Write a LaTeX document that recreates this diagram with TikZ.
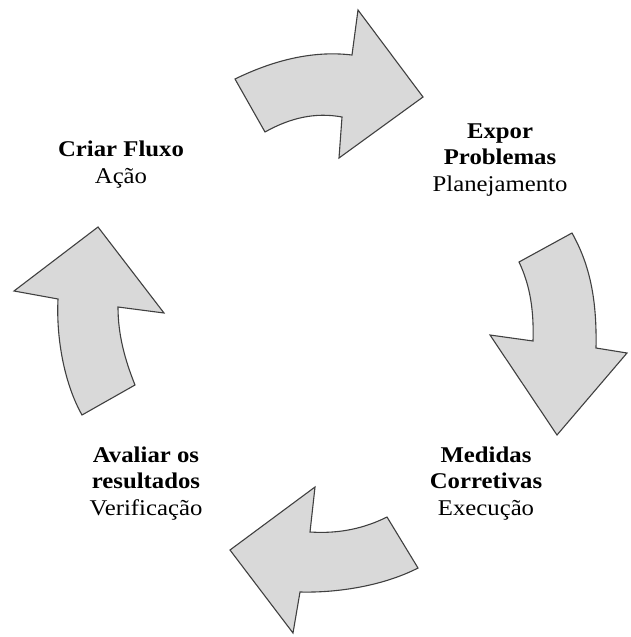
\documentclass[tikz,border=0pt]{standalone}
\usepackage{fontspec}
\setmainfont{Liberation Serif}
\begin{document}
\begin{tikzpicture}[x=1pt,y=-1pt,
  cyclearrow/.style={fill=black!15, draw=black!75, line width=1.1pt, line join=miter},
  stagelabel/.style={align=center, xscale=1.1, inner sep=0pt,
    font=\fontsize{22.5}{26.5}\selectfont, anchor=base}]
\useasboundingbox (0,0) rectangle (630,637);

% top arrow: pointing right
\draw[cyclearrow] (235,79) .. controls (270,62) and (310,50) .. (352,55)
  -- (358,10) -- (423,97) -- (339,158) -- (342,117)
  .. controls (315,112) and (290,118) .. (265,132) -- cycle;

% right arrow: pointing down
\draw[cyclearrow] (519,262) -- (572,233)
  .. controls (590,265) and (597,300) .. (596,348)
  -- (627,353) -- (557,435) -- (490,335) -- (533,341)
  .. controls (534,310) and (530,285) .. (519,262) -- cycle;

% bottom arrow: pointing left
\draw[cyclearrow] (387,517) -- (418,568)
  .. controls (385,585) and (340,593) .. (300,592)
  -- (293,633) -- (230,550) -- (315,487) -- (310,532)
  .. controls (340,534) and (365,528) .. (387,517) -- cycle;

% left arrow: pointing up
\draw[cyclearrow] (98,227) -- (164,313) -- (118,307)
  .. controls (118,335) and (125,360) .. (135,385)
  -- (82,415)
  .. controls (65,385) and (56,340) .. (58,299)
  -- (14,291) -- cycle;

% stage labels (anchored at the baseline of their last line)
\node[stagelabel] (acao) at (121,183) {\textbf{Criar Fluxo}\\Ação};
\node[stagelabel] (plan) at (500,191) {\textbf{Expor}\\\textbf{Problemas}\\Planejamento};
\node[stagelabel] (exec) at (486,515) {\textbf{Medidas}\\\textbf{Corretivas}\\Execução};
\node[stagelabel] (verif) at (146,515) {\textbf{Avaliar os}\\\textbf{resultados}\\Verificação};
\end{tikzpicture}
\end{document}
